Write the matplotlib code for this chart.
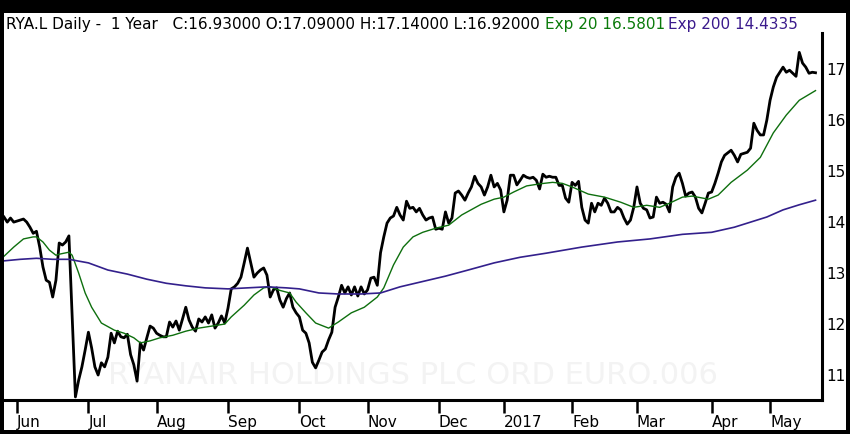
import numpy as np
import pandas as pd
import matplotlib
matplotlib.use('Agg')
import matplotlib.pyplot as plt
from matplotlib.patches import Rectangle

# LSE trading days shown on the chart (25 May 2016 - 22 May 2017)
holidays = ['2016-05-30', '2016-08-29', '2016-12-26', '2016-12-27',
            '2017-01-02', '2017-04-14', '2017-04-17', '2017-05-01']
days = pd.bdate_range('2016-05-25', '2017-05-22')
days = days[~days.isin(pd.to_datetime(holidays))]

# daily close
close = [
    14.10, 14.00, 14.08, 14.00, 14.02, 14.04, 14.06, 14.00, 13.90, 13.78,
    13.82, 13.51, 13.12, 12.86, 12.82, 12.53, 12.86, 13.59, 13.55, 13.61,
    13.73, 12.15, 10.57, 10.90, 11.16, 11.49, 11.84, 11.53, 11.16, 11.00,
    11.24, 11.16, 11.35, 11.82, 11.63, 11.86, 11.75, 11.73, 11.80, 11.40,
    11.20, 10.88, 11.63, 11.49, 11.73, 11.96, 11.92, 11.82, 11.78, 11.75,
    11.75, 12.04, 11.94, 12.06, 11.88, 12.10, 12.33, 12.08, 11.94, 11.86,
    12.10, 12.04, 12.14, 12.02, 12.18, 11.92, 12.02, 12.16, 12.02, 12.31,
    12.69, 12.73, 12.80, 12.92, 13.20, 13.49, 13.20, 12.92, 13.00, 13.06,
    13.10, 12.96, 12.53, 12.67, 12.71, 12.47, 12.33, 12.50, 12.61, 12.33,
    12.22, 12.14, 11.88, 11.82, 11.63, 11.25, 11.14, 11.29, 11.45, 11.51,
    11.69, 11.84, 12.33, 12.53, 12.76, 12.61, 12.73, 12.57, 12.73, 12.55,
    12.73, 12.59, 12.67, 12.90, 12.92, 12.76, 13.40, 13.71, 13.98, 14.08,
    14.12, 14.29, 14.14, 14.04, 14.41, 14.27, 14.29, 14.20, 14.27, 14.14,
    14.04, 14.08, 14.10, 13.86, 13.88, 13.86, 14.20, 13.98, 14.08, 14.57,
    14.61, 14.53, 14.43, 14.57, 14.69, 14.90, 14.76, 14.69, 14.53, 14.69,
    14.92, 14.69, 14.76, 14.63, 14.20, 14.43, 14.92, 14.92, 14.73, 14.82,
    14.92, 14.88, 14.86, 14.88, 14.82, 14.65, 14.94, 14.88, 14.90, 14.88,
    14.88, 14.72, 14.72, 14.47, 14.39, 14.78, 14.72, 14.80, 14.29, 14.04,
    13.98, 14.37, 14.20, 14.37, 14.33, 14.47, 14.37, 14.20, 14.20, 14.29,
    14.24, 14.08, 13.96, 14.04, 14.29, 14.69, 14.37, 14.27, 14.24, 14.08,
    14.10, 14.49, 14.37, 14.39, 14.35, 14.20, 14.69, 14.88, 14.96, 14.76,
    14.51, 14.57, 14.59, 14.49, 14.27, 14.18, 14.37, 14.57, 14.59, 14.76,
    14.96, 15.18, 15.31, 15.36, 15.41, 15.31, 15.18, 15.33, 15.35, 15.37,
    15.45, 15.94, 15.80, 15.71, 15.71, 16.00, 16.39, 16.65, 16.84, 16.94,
    17.04, 16.94, 16.98, 16.92, 16.86, 17.33, 17.12, 17.04, 16.92, 16.94,
    16.93,
]

# exponential averages (trading day index, value)
ema20_day = [0, 3, 6, 9, 10, 12, 14, 16, 17, 20, 21, 23, 25, 27, 30, 34, 37,
             40, 42, 45, 48, 52, 56, 60, 64, 68, 70, 74, 77, 80, 82, 85, 88,
             90, 93, 96, 100, 103, 107, 111, 115, 117, 120, 123, 126, 129,
             133, 137, 141, 147, 151, 154, 157, 161, 165, 169, 172, 175, 180,
             185, 190, 194, 198, 202, 205, 209, 212, 217, 220, 224, 229, 233,
             237, 241, 245, 250]
ema20 = [13.33, 13.51, 13.67, 13.71, 13.71, 13.61, 13.45, 13.35, 13.37, 13.41,
         13.35, 13.00, 12.61, 12.33, 12.02, 11.88, 11.82, 11.73, 11.63, 11.67,
         11.73, 11.78, 11.86, 11.92, 11.96, 12.00, 12.14, 12.37, 12.57, 12.71,
         12.73, 12.66, 12.61, 12.43, 12.22, 12.02, 11.92, 12.04, 12.22, 12.33,
         12.53, 12.71, 13.16, 13.51, 13.71, 13.80, 13.88, 13.94, 14.14, 14.35,
         14.45, 14.49, 14.59, 14.71, 14.75, 14.78, 14.76, 14.69, 14.55, 14.49,
         14.39, 14.29, 14.33, 14.29, 14.37, 14.49, 14.51, 14.45, 14.53, 14.78,
         15.02, 15.27, 15.75, 16.10, 16.39, 16.58]

ema200_day = [0, 5, 10, 15, 20, 26, 32, 38, 44, 50, 56, 62, 69, 75, 81, 87,
              91, 97, 103, 110, 116, 122, 128, 136, 143, 151, 159, 167, 178,
              189, 199, 209, 218, 225, 230, 235, 240, 245, 250]
ema200 = [13.24, 13.27, 13.29, 13.27, 13.27, 13.20, 13.06, 12.98, 12.88,
          12.80, 12.75, 12.71, 12.69, 12.71, 12.73, 12.71, 12.69, 12.61,
          12.59, 12.59, 12.61, 12.73, 12.82, 12.94, 13.06, 13.20, 13.31,
          13.39, 13.51, 13.61, 13.67, 13.76, 13.80, 13.90, 14.00, 14.10,
          14.24, 14.34, 14.43]

month_labels = ['Jun', 'Jul', 'Aug', 'Sep', 'Oct', 'Nov', 'Dec', '2017',
                'Feb', 'Mar', 'Apr', 'May']
price_ticks = [11, 12, 13, 14, 15, 16, 17]

header = 'RYA.L Daily -  1 Year   C:16.93000 O:17.09000 H:17.14000 L:16.92000'
ema20_label = 'Exp 20 16.5801'
ema200_label = 'Exp 200 14.4335'
watermark = 'RYANAIR HOLDINGS PLC ORD EURO.006'

W, H = 850, 434
green = '#0e6f0e'
purple = '#33208c'

fig = plt.figure(figsize=(W / 100, H / 100), dpi=100, facecolor='black')
# white panel inside the black frame
fig.patches.append(Rectangle((4 / W, 4 / H), 842 / W, 417 / H,
                             transform=fig.transFigure, facecolor='white',
                             edgecolor='none', zorder=-5))

ax = fig.add_axes([4 / W, 1 - 400 / H, 818 / W, 367 / H])
ax.set_facecolor('white')

x = np.arange(len(close))
ax.plot(x, close, color='black', lw=2.0, solid_joinstyle='round', zorder=3)
ax.plot(ema20_day, ema20, color=green, lw=1.0, zorder=4)
ax.plot(ema200_day, ema200, color=purple, lw=1.2, zorder=4)

ax.set_xlim(0, 252)
ax.set_ylim(10.51, 17.71)

month_start = np.flatnonzero(np.diff(days.month) != 0) + 1
ax.set_xticks(month_start)
ax.set_xticklabels(month_labels, ha='left')
ax.tick_params(axis='x', length=9, width=1.8, pad=2, labelsize=11,
               direction='out', colors='black')

ax.yaxis.tick_right()
ax.set_yticks(price_ticks)
ax.set_yticklabels([str(t) for t in price_ticks])
ax.tick_params(axis='y', length=0, pad=3, labelsize=11)

ax.spines['left'].set_visible(False)
ax.spines['top'].set_visible(False)
ax.spines['right'].set_linewidth(2.2)
ax.spines['bottom'].set_linewidth(2.2)

# faint watermark behind the data
ax.text(413 / W, 1 - 376 / H, watermark, transform=fig.transFigure,
        fontsize=22, color='#f3f3f3', ha='center', va='center', zorder=1)

ty = 1 - 24.5 / H
fig.text(6 / W, ty, header, fontsize=11, color='black', va='center')
fig.text(545 / W, ty, ema20_label, fontsize=11, color='#0a7a0a', va='center')
fig.text(668 / W, ty, ema200_label, fontsize=11, color='#3a1a8c', va='center')

fig.savefig('out.png', dpi=100, facecolor=fig.get_facecolor())
